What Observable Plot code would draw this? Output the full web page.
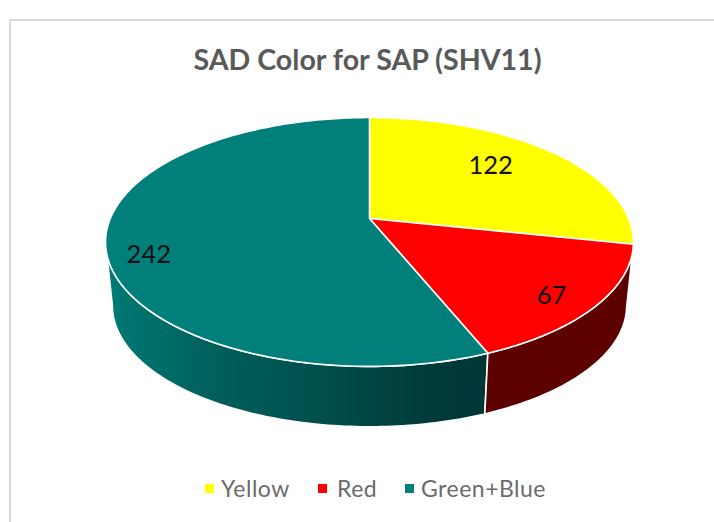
<!DOCTYPE html>
<html>
<head>
<meta charset="utf-8">
<script src="https://cdn.jsdelivr.net/npm/d3@7"></script>
<script src="https://cdn.jsdelivr.net/npm/@observablehq/plot@0.6"></script>
<style>
  html, body { margin: 0; padding: 0; background: #fff; width: 714px; height: 522px; overflow: hidden; }
  #wrap { position: relative; width: 714px; height: 522px; font-family: Lato, sans-serif; }
  #frame { position: absolute; left: 9px; top: 19px; right: -4px; bottom: -4px; border: 2px solid #d9d9d9; pointer-events: none; }
  #title { height: 92px; box-sizing: border-box; padding-top: 41px; padding-left: 21px; text-align: center; font-size: 28.6px; line-height: 36px; font-weight: 700; color: #595959; }
  #chart svg { display: block; }
  #legend { position: relative; height: 82px; color: #6b6b6b; font-size: 23px; }
  .key { position: absolute; top: 36px; display: flex; align-items: center; height: 24px; white-space: nowrap; letter-spacing: .5px; }
  .swatch { width: 9px; height: 9px; margin-right: 7px; display: inline-block; }
</style>
</head>
<body>
<div id="wrap">
  <div id="title">SAD Color for SAP (SHV11)</div>
  <div id="chart"></div>
  <div id="legend"></div>
  <div id="frame"></div>
</div>
<script>
// Data
const categories = ["Yellow", "Red", "Green+Blue"];
const counts = [122, 67, 242];
const topColors = ["#ffff00", "#ff0000", "#007f7b"];
const legendLeft = [205, 318, 405];

// Perspective view of the disc
const chartW = 714, chartH = 348;
const tilt = 0.1887;
const topDisc = {cx: 369, cy: 126, a: 259.2, b: 120};
const lowDisc = {cx: 369, cy: 190.3, a: 252.5, b: 116.8};
const leftExtreme = 259.1;
const sideStops = [[0, "#007a75"], [0.25, "#00625e"], [0.6, "#004c4a"], [0.85, "#003b3a"], [1, "#003536"]];
const labelPlacement = [
  {dx: -9, dy: -4},
  {dx: 30, dy: 18},
  {dx: -38, dy: 19.6}
];

const project = (disc, deg, r = 1) => {
  const t = deg * Math.PI / 180;
  const u = r * Math.sin(t), v = -r * Math.cos(t), w = 1 - tilt * v;
  return {x: disc.cx + disc.a * u / w, y: disc.cy + disc.b * v / w};
};
const arc = (disc, a0, a1) => {
  const n = Math.max(2, Math.ceil(Math.abs(a1 - a0)));
  return d3.range(n + 1).map(i => project(disc, a0 + (a1 - a0) * i / n));
};

const total = d3.sum(counts);
let acc = 0;
const slices = categories.map((name, i) => {
  const start = acc / total * 360;
  acc += counts[i];
  return {name, value: counts[i], start, end: acc / total * 360};
});

const topPoints = slices.flatMap(s => {
  const c = project(topDisc, 0, 0);
  return [c, ...arc(topDisc, s.start, s.end), c].map(p => ({...p, name: s.name}));
});
const wall = (a0, a1) => {
  const up = arc(topDisc, a0, a1), low = arc(lowDisc, a0, a1).reverse();
  return [...up, ...low, up[0]];
};
const redWall = wall(slices[1].start, slices[1].end);
const tealWall = wall(slices[2].start, leftExtreme);

const labels = slices.map((s, i) => ({
  ...project(topDisc, (s.start + s.end) / 2, 0.7),
  text: String(s.value),
  dx: labelPlacement[i].dx,
  dy: labelPlacement[i].dy
}));

const gradientMark = () => {
  const ns = "http://www.w3.org/2000/svg";
  const defs = document.createElementNS(ns, "defs");
  const g = document.createElementNS(ns, "linearGradient");
  g.setAttribute("id", "tealSide");
  g.setAttribute("gradientUnits", "userSpaceOnUse");
  g.setAttribute("x1", 106); g.setAttribute("x2", 487);
  g.setAttribute("y1", 0); g.setAttribute("y2", 0);
  for (const [o, c] of sideStops) {
    const s = document.createElementNS(ns, "stop");
    s.setAttribute("offset", o); s.setAttribute("stop-color", c);
    g.appendChild(s);
  }
  defs.appendChild(g);
  return defs;
};

const plot = Plot.plot({
  width: chartW,
  height: chartH,
  margin: 0,
  style: {background: "transparent"},
  x: {domain: [0, chartW], range: [0, chartW], axis: null},
  y: {domain: [0, chartH], range: [0, chartH], axis: null},
  color: {domain: categories, range: topColors},
  marks: [
    gradientMark,
    Plot.line(tealWall, {x: "x", y: "y", fill: "url(#tealSide)", stroke: "white", strokeWidth: 1.6, curve: "linear"}),
    Plot.line(redWall, {x: "x", y: "y", fill: "#5c0000", stroke: "white", strokeWidth: 1.6, curve: "linear"}),
    Plot.line(topPoints, {x: "x", y: "y", z: "name", fill: "name", stroke: "white", strokeWidth: 1.6, curve: "linear"}),
    ...labels.map(l => Plot.text([l], {
      x: "x", y: "y", text: "text", dx: l.dx, dy: l.dy,
      fontSize: 25.5, fontFamily: "Lato, sans-serif", fill: "#111"
    }))
  ]
});
document.getElementById("chart").appendChild(plot);

const legend = document.getElementById("legend");
categories.forEach((name, i) => {
  const key = document.createElement("div");
  key.className = "key";
  key.style.left = legendLeft[i] + "px";
  const sw = document.createElement("span");
  sw.className = "swatch";
  sw.style.background = topColors[i];
  if (i === 1) sw.style.marginRight = "10px";
  key.appendChild(sw);
  key.appendChild(document.createTextNode(name));
  legend.appendChild(key);
});
</script>
</body>
</html>
